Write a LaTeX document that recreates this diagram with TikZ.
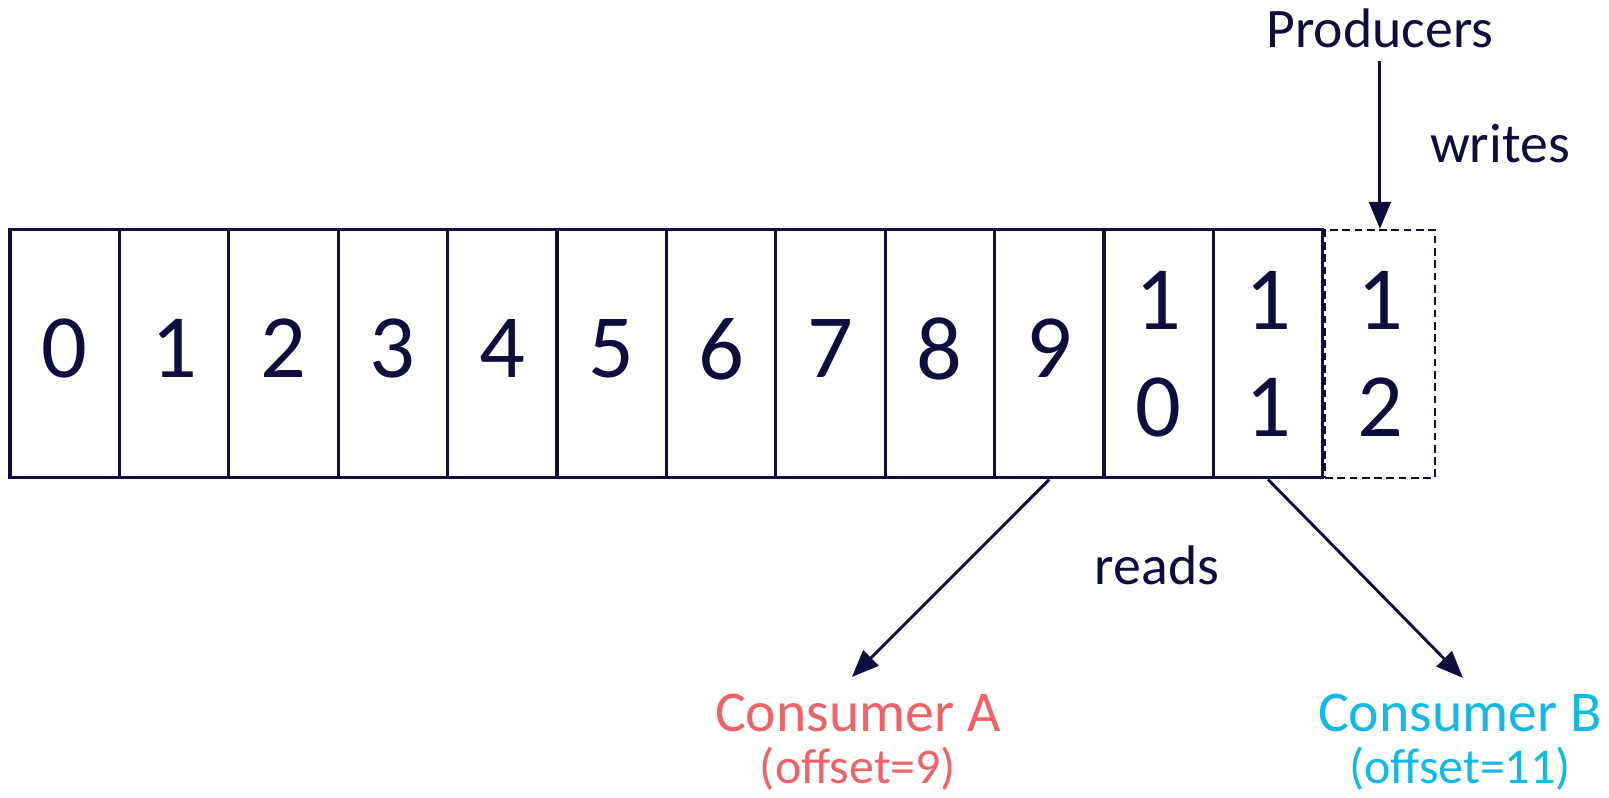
\documentclass[tikz,border=0pt]{standalone}
\usepackage{fontspec}
\setmainfont{Carlito}
\usepackage{xcolor}
\usetikzlibrary{arrows.meta}
\definecolor{navy}{RGB}{13,13,62}
\definecolor{consred}{RGB}{238,98,104}
\definecolor{conscyan}{RGB}{18,184,230}

\begin{document}
\begin{tikzpicture}[>={Triangle[length=7pt,width=5.6pt]},
cell/.style={draw=navy,line width=0.8pt,minimum width=1cm,minimum height=2.267cm,inner sep=0pt,text=navy,align=center,font=\fontsize{23.5}{27.8}\selectfont},
lbl/.style={text=navy,inner sep=3pt,anchor=base,font=\fontsize{14.5}{17}\selectfont},
arr/.style={->,draw=navy,line width=0.75pt}]
\useasboundingbox (0,0) rectangle (14.708,7.294);
% the log: one cell per offset
\foreach \i in {0,...,9}
  \node[cell,text depth=2.8pt] (c\i) at (0.5914+\i,4.0585) {\i};
\node[cell] (c10) at (10.5914,4.0585) {1\\0};
\node[cell] (c11) at (11.5914,4.0585) {1\\1};
\node[cell,line width=0.55pt,dash pattern=on 2pt off 1.2pt,minimum width=1.005cm] (c12) at (12.614,4.0585) {1\\2};
% producer side
\node[lbl] (prod) at (12.614,6.856) {Producers};
\node[lbl] (writes) at (13.711,5.804) {writes};
\draw[arr] (prod.south)--(c12.north);
% consumers
\node[lbl] (reads) at (10.576,1.947) {reads};
\node[lbl,text=consred,font=\fontsize{15}{18}\selectfont] (consA) at (7.843,0.603) {Consumer A};
\node[lbl,text=consred,font=\fontsize{13}{15}\selectfont] (offA) at (7.843,0.128) {(offset=9)};
\node[lbl,text=conscyan,font=\fontsize{15}{18}\selectfont] (consB) at (13.346,0.603) {Consumer B};
\node[lbl,text=conscyan,font=\fontsize{13}{15}\selectfont] (offB) at (13.346,0.128) {(offset=11)};
\coordinate (tipA) at (7.788,1.106);
\coordinate (tipB) at (13.373,1.097);
\draw[arr] (c9.south)--(tipA);
\draw[arr] (c11.south)--(tipB);
\end{tikzpicture}
\end{document}
